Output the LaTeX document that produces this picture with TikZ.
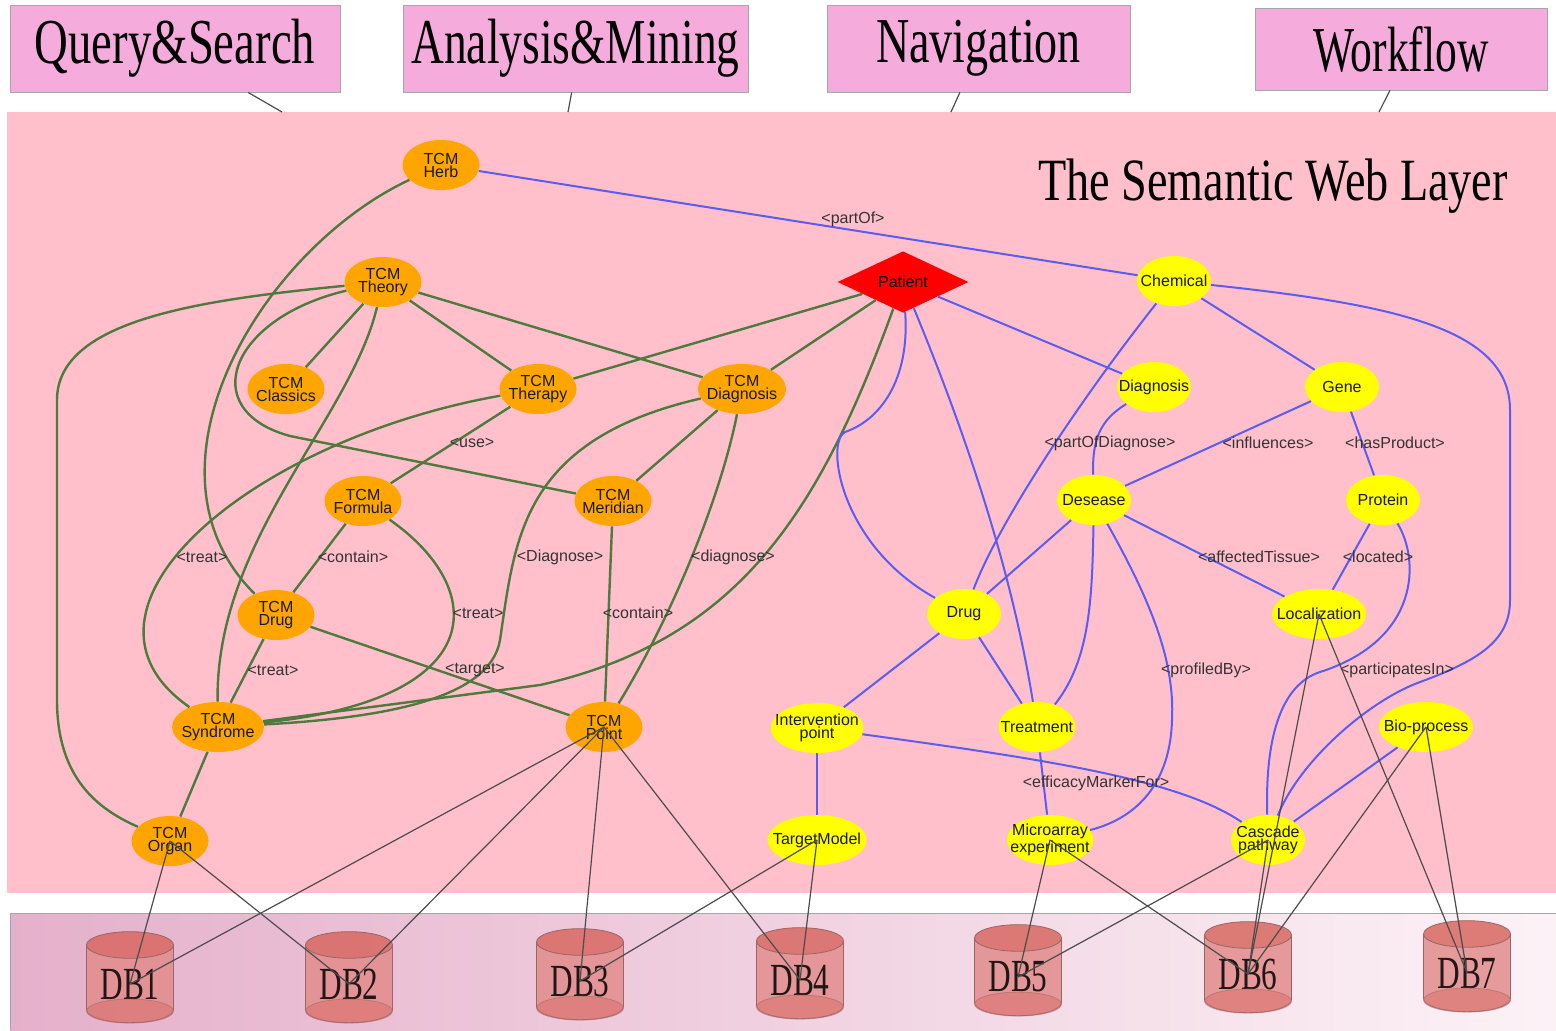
\documentclass[tikz,border=0pt]{standalone}
\usepackage{fontspec}
\usepackage{graphicx}
\usepackage{tikz}
\usetikzlibrary{shapes.geometric}
\newfontfamily\nodefont{Liberation Sans}
\newfontfamily\titlefont{Liberation Serif}

\definecolor{layerpink}{RGB}{255,192,203}
\definecolor{appfill}{RGB}{245,172,221}
\definecolor{tcmorange}{RGB}{255,165,0}
\definecolor{bioyellow}{RGB}{255,255,0}
\definecolor{tcmgreen}{RGB}{78,122,62}
\definecolor{bioblue}{RGB}{92,92,240}
\definecolor{dbbody}{RGB}{226,140,140}
\definecolor{dbend}{RGB}{216,104,98}
\definecolor{bandleft}{RGB}{229,176,203}
\definecolor{bandright}{RGB}{252,242,246}

\tikzset{
  appnode/.style={rectangle, draw=gray!70, fill=appfill, minimum height=43.5pt, inner sep=0pt, font=\titlefont\fontsize{32}{34}\selectfont},
  tcm/.style={ellipse, fill=tcmorange, text=black!90, inner xsep=-2pt, inner ysep=0pt, minimum width=38.5pt, minimum height=25pt, align=center, font=\nodefont\fontsize{8}{6.5}\selectfont},
  bio/.style={ellipse, fill=bioyellow, text=black!90, inner xsep=-4.5pt, inner ysep=0pt, minimum width=37pt, minimum height=25pt, align=center, font=\nodefont\fontsize{8}{6.5}\selectfont},
  patientnode/.style={diamond, fill=red, inner sep=0pt, minimum width=65.5pt, minimum height=30pt, font=\nodefont\fontsize{8}{6.5}\selectfont},
  rel/.style={inner sep=0pt, text=black!80, font=\nodefont\fontsize{8}{9}\selectfont},
  dbnode/.style={cylinder, shape border rotate=90, aspect=0.45, minimum width=43.5pt, minimum height=45.5pt, draw=gray!80!red, cylinder uses custom fill, cylinder body fill=dbbody, cylinder end fill=dbend, fill opacity=0.85, inner sep=0pt, font=\titlefont\fontsize{23}{23}\selectfont},
  dbbottom/.style={fill=dbend, fill opacity=0.45, draw=gray!80!red, draw opacity=0.5},
  tcmline/.style={draw=tcmgreen, line width=1.2pt},
  bioline/.style={draw=bioblue, line width=1pt},
  dbline/.style={draw=black!70, line width=0.6pt},
  appline/.style={draw=gray!60!black, line width=0.6pt}
}

\begin{document}
\begin{tikzpicture}[x=0.5pt, y=-0.5pt]
    \useasboundingbox (0,0) rectangle (1556,1030);

    % Layers
    \fill[layerpink] (7,112) rectangle (1556,893);
    \shade[left color=bandleft, right color=bandright] (10,913) rectangle (1556,1030);
    \draw[gray!70] (10,1030) -- (10,913) -- (1556,913);
    \node[anchor=base, font=\titlefont\fontsize{30}{32}\selectfont] (title) at (1273,200) {\scalebox{0.77}[1]{The Semantic Web Layer}};

    % Application boxes
    \node[appnode, minimum width=165pt] (query) at (175,48.5) {\scalebox{0.73}[1]{Query\&Search}};
    \node[appnode, minimum width=172.5pt] (analysis) at (575.5,48.5) {\scalebox{0.71}[1]{Analysis\&Mining}};
    \node[appnode, minimum width=151.5pt] (navigation) at (978.5,48.5) {\scalebox{0.72}[1]{Navigation}};
    \node[appnode, minimum width=146pt, minimum height=41pt] (workflow) at (1401,49) {\scalebox{0.68}[1]{Workflow}};
    \coordinate (query-in) at (282,112);
    \coordinate (analysis-in) at (568,112);
    \coordinate (navigation-in) at (951,112);
    \coordinate (workflow-in) at (1379,112);
    \draw[appline] (query.-31) -- (query-in);
    \draw[appline] (analysis.-95) -- (analysis-in);
    \draw[appline] (navigation.-113) -- (navigation-in);
    \draw[appline] (workflow.-105) -- (workflow-in);

    % TCM concepts
    \node[tcm] (herb) at (441,165) {TCM\\Herb};
    \node[tcm] (theory) at (383,282) {TCM\\Theory};
    \node[tcm] (classics) at (286,389) {TCM\\Classics};
    \node[tcm] (therapy) at (538,389) {TCM\\Therapy};
    \node[tcm] (tcmdiag) at (742,389) {TCM\\Diagnosis};
    \node[tcm] (formula) at (363,501) {TCM\\Formula};
    \node[tcm] (meridian) at (613,501) {TCM\\Meridian};
    \node[tcm] (tcmdrug) at (276,615) {TCM\\Drug};
    \node[tcm] (syndrome) at (218,727) {TCM\\Syndrome};
    \node[tcm] (point) at (604,727) {TCM\\Point};
    \node[tcm] (organ) at (170,841) {TCM\\Organ};

    % Biomedical concepts
    \node[patientnode] (patient) at (903,282) {Patient};
    \node[bio] (chemical) at (1174,281) {Chemical};
    \node[bio] (diagnosis) at (1154,387) {Diagnosis};
    \node[bio] (gene) at (1342,387) {Gene};
    \node[bio] (desease) at (1094,500) {Desease};
    \node[bio] (protein) at (1383,500) {Protein};
    \node[bio] (drug) at (964,614) {Drug};
    \node[bio] (localization) at (1319,614) {Localization};
    \node[bio] (intervention) at (817,728) {Intervention\\point};
    \node[bio] (treatment) at (1037,727) {Treatment};
    \node[bio] (bioprocess) at (1426,727) {Bio-process};
    \node[bio] (targetmodel) at (817,840) {TargetModel};
    \node[bio] (microarray) at (1050,840) {Microarray\\experiment};
    \node[bio] (cascade) at (1268,840) {Cascade\\pathway};

    % Databases
    \node[dbnode] (db1) at (130,984) {\scalebox{0.68}[1]{DB1}};
    \node[dbnode] (db2) at (349,984) {\scalebox{0.68}[1]{DB2}};
    \node[dbnode] (db3) at (580,981) {\scalebox{0.68}[1]{DB3}};
    \node[dbnode] (db4) at (800,980) {\scalebox{0.68}[1]{DB4}};
    \node[dbnode] (db5) at (1018,977) {\scalebox{0.68}[1]{DB5}};
    \node[dbnode] (db6) at (1248,974) {\scalebox{0.68}[1]{DB6}};
    \node[dbnode] (db7) at (1467,973) {\scalebox{0.68}[1]{DB7}};
    \fill[dbbottom] ([yshift=6pt]db1.bottom) ellipse [x radius=21.75pt, y radius=6pt];
    \fill[dbbottom] ([yshift=6pt]db2.bottom) ellipse [x radius=21.75pt, y radius=6pt];
    \fill[dbbottom] ([yshift=6pt]db3.bottom) ellipse [x radius=21.75pt, y radius=6pt];
    \fill[dbbottom] ([yshift=6pt]db4.bottom) ellipse [x radius=21.75pt, y radius=6pt];
    \fill[dbbottom] ([yshift=6pt]db5.bottom) ellipse [x radius=21.75pt, y radius=6pt];
    \fill[dbbottom] ([yshift=6pt]db6.bottom) ellipse [x radius=21.75pt, y radius=6pt];
    \fill[dbbottom] ([yshift=6pt]db7.bottom) ellipse [x radius=21.75pt, y radius=6pt];

    % TCM relations
    \draw[tcmline] (herb) .. controls (260,250) and (130,470) .. (tcmdrug);
    \draw[tcmline] (theory) .. controls (200,300) and (57,320) .. (57,400) -- (57,700) .. controls (57,780) and (100,810) .. (organ);
    \draw[tcmline] (theory) .. controls (230,318) and (195,410) .. (290,436) -- (meridian);
    \draw[tcmline] (theory) -- (classics);
    \draw[tcmline] (theory) .. controls (350,420) and (215,540) .. (syndrome);
    \draw[tcmline] (theory) -- (therapy);
    \draw[tcmline] (theory) -- (tcmdiag);
    \draw[tcmline] (patient) -- (therapy);
    \draw[tcmline] (patient) -- (tcmdiag);
    \draw[tcmline] (patient) .. controls (820,510) and (740,640) .. (540,685) -- (syndrome);
    \draw[tcmline] (tcmdiag) .. controls (520,440) and (515,540) .. (500,640) .. controls (490,700) and (380,718) .. (syndrome);
    \draw[tcmline] (tcmdiag) -- (meridian);
    \draw[tcmline] (tcmdiag) .. controls (720,500) and (670,620) .. (point);
    \draw[tcmline] (meridian) -- (point);
    \draw[tcmline] (therapy) .. controls (250,440) and (50,610) .. (syndrome);
    \draw[tcmline] (therapy) -- (formula);
    \draw[tcmline] (formula) -- (tcmdrug);
    \draw[tcmline] (formula) .. controls (490,590) and (490,700) .. (syndrome);
    \draw[tcmline] (tcmdrug) -- (syndrome);
    \draw[tcmline] (tcmdrug) -- (point);
    \draw[tcmline] (syndrome) -- (organ);

    % Biomedical relations
    \draw[bioline] (herb) -- (chemical);
    \draw[bioline] (chemical) .. controls (1400,305) and (1510,330) .. (1510,410) -- (1510,600) .. controls (1510,640) and (1480,660) .. (1420,682) .. controls (1370,700) and (1300,760) .. (cascade);
    \draw[bioline] (chemical) .. controls (1080,400) and (1000,520) .. (drug);
    \draw[bioline] (chemical) -- (gene);
    \draw[bioline] (patient) -- (diagnosis);
    \draw[bioline] (patient) .. controls (910,380) and (880,420) .. (845,432) .. controls (825,442) and (840,545) .. (drug);
    \draw[bioline] (patient) .. controls (960,420) and (1010,560) .. (treatment);
    \draw[bioline] (diagnosis) .. controls (1100,420) and (1092,440) .. (desease);
    \draw[bioline] (gene) -- (desease);
    \draw[bioline] (gene) -- (protein);
    \draw[bioline] (desease) -- (drug);
    \draw[bioline] (desease) .. controls (1092,600) and (1090,660) .. (treatment);
    \draw[bioline] (desease) .. controls (1150,600) and (1175,660) .. (1172,720) .. controls (1170,790) and (1130,820) .. (microarray);
    \draw[bioline] (desease) -- (localization);
    \draw[bioline] (protein) -- (localization);
    \draw[bioline] (protein) .. controls (1420,560) and (1420,640) .. (1320,672) .. controls (1280,685) and (1265,740) .. (cascade);
    \draw[bioline] (drug) -- (intervention);
    \draw[bioline] (drug) -- (treatment);
    \draw[bioline] (intervention) -- (targetmodel);
    \draw[bioline] (intervention) .. controls (1050,760) and (1180,780) .. (cascade);
    \draw[bioline] (treatment) -- (microarray);
    \draw[bioline] (bioprocess) -- (cascade);

    % Relation labels
    \node[rel] (l-partof) at (853,219) {<partOf>};
    \node[rel] (l-use) at (472,443) {<use>};
    \node[rel] (l-treat1) at (202,557) {<treat>};
    \node[rel] (l-contain1) at (353,557) {<contain>};
    \node[rel] (l-diagnose1) at (560,557) {<Diagnose>};
    \node[rel] (l-diagnose2) at (733,557) {<diagnose>};
    \node[rel] (l-treat2) at (478,613) {<treat>};
    \node[rel] (l-contain2) at (638,613) {<contain>};
    \node[rel] (l-treat3) at (273,670) {<treat>};
    \node[rel] (l-target) at (475,670) {<target>};
    \node[rel] (l-partofdiag) at (1110,443) {<partOfDiagnose>};
    \node[rel] (l-influences) at (1268,443) {<influences>};
    \node[rel] (l-hasproduct) at (1395,443) {<hasProduct>};
    \node[rel] (l-tissue) at (1259,557) {<affectedTissue>};
    \node[rel] (l-located) at (1378,557) {<located>};
    \node[rel] (l-profiled) at (1206,670) {<profiledBy>};
    \node[rel] (l-participates) at (1397,670) {<participatesIn>};
    \node[rel] (l-efficacy) at (1096,783) {<efficacyMarkerFor>};

    % Links to the data sources
    \draw[dbline] (organ.center) -- (db1.center);
    \draw[dbline] (organ.center) -- (db2.center);
    \draw[dbline] (point.center) -- (db1.center);
    \draw[dbline] (point.center) -- (db2.center);
    \draw[dbline] (point.center) -- (db3.center);
    \draw[dbline] (point.center) -- (db4.center);
    \draw[dbline] (targetmodel.center) -- (db3.center);
    \draw[dbline] (targetmodel.center) -- (db4.center);
    \draw[dbline] (microarray.center) -- (db5.center);
    \draw[dbline] (microarray.center) -- (db6.center);
    \draw[dbline] (cascade.center) -- (db5.center);
    \draw[dbline] (cascade.center) -- (db6.center);
    \draw[dbline] (localization.center) -- (db6.center);
    \draw[dbline] (localization.center) -- (db7.center);
    \draw[dbline] (bioprocess.center) -- (db6.center);
    \draw[dbline] (bioprocess.center) -- (db7.center);
\end{tikzpicture}
\end{document}
